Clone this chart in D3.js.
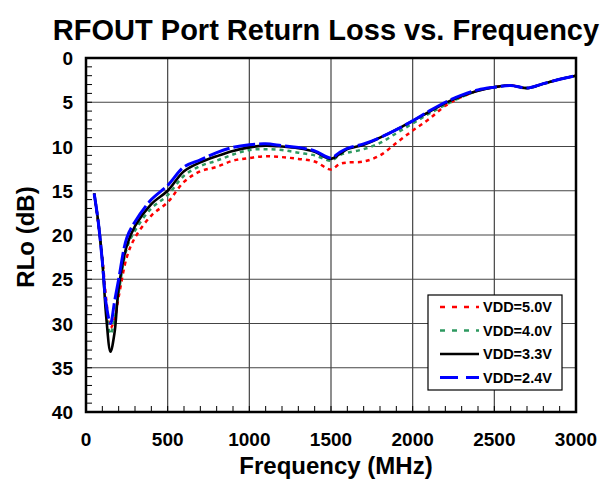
<!DOCTYPE html>
<html>
<head>
<meta charset="utf-8">
<script src="https://cdn.jsdelivr.net/npm/d3@7"></script>
<style>
  body { margin: 0; background: #fff; }
  text { font-family: "Liberation Sans", Arial, sans-serif; font-weight: bold; }
</style>
</head>
<body>
<div id="chart"></div>
<script>
// frequency points (MHz)
var freq = [50, 75, 100, 125, 150, 175, 200, 250, 300, 400, 500, 600, 700, 800, 900, 1000,
            1100, 1200, 1300, 1400, 1500, 1550, 1600, 1700, 1800, 1900, 2000, 2100, 2200,
            2300, 2400, 2500, 2600, 2700, 2800, 2900, 3000];

var rlo50 = [15.3, 18.7, 22.5, 27.5, 30.5, 29.5, 27.0, 22.5, 20.3, 17.8, 16.3, 14.0, 12.8, 12.3, 11.6, 11.3,
             11.1, 11.2, 11.4, 11.7, 12.6, 12.0, 11.8, 11.7, 11.0, 9.6, 8.2, 6.9, 5.4,
             4.4, 3.7, 3.3, 3.1, 3.4, 2.9, 2.4, 2.0];
var rlo40 = [15.3, 18.5, 22.8, 28.5, 31.2, 29.5, 26.5, 21.5, 19.5, 17.0, 15.5, 13.3, 12.2, 11.6, 10.9, 10.4,
             10.3, 10.4, 10.7, 11.0, 11.6, 11.0, 10.7, 10.3, 9.6, 8.5, 7.4, 6.3, 5.3,
             4.4, 3.7, 3.3, 3.1, 3.4, 2.9, 2.4, 2.0];
var rlo33 = [15.3, 18.5, 23.0, 29.5, 33.2, 31.0, 26.0, 21.2, 19.0, 16.5, 15.0, 12.8, 11.8, 11.1, 10.5, 10.1,
             9.9, 10.0, 10.2, 10.6, 11.4, 10.9, 10.3, 9.8, 9.0, 8.1, 7.1, 6.1, 5.1,
             4.3, 3.7, 3.3, 3.1, 3.4, 2.9, 2.4, 2.0];
var rlo24 = [15.3, 18.5, 23.0, 28.0, 30.0, 27.5, 25.0, 20.3, 18.5, 16.0, 14.4, 12.3, 11.5, 10.7, 10.1, 9.8,
             9.7, 9.9, 10.1, 10.5, 11.3, 10.7, 10.2, 9.7, 9.0, 8.1, 7.1, 6.0, 5.0,
             4.2, 3.6, 3.3, 3.1, 3.4, 2.9, 2.4, 2.0];

var seriesNames = ['VDD=5.0V', 'VDD=4.0V', 'VDD=3.3V', 'VDD=2.4V'];
var xTicks = [0, 500, 1000, 1500, 2000, 2500, 3000];
var yTicks = [0, 5, 10, 15, 20, 25, 30, 35, 40];

var series = [
  { name: seriesNames[0], values: rlo50, color: '#ff0000', dash: '4,4', legendDash: '5,7', width: 2.5 },
  { name: seriesNames[1], values: rlo40, color: '#2e9960', dash: '4,4', legendDash: '5,7', width: 2.5 },
  { name: seriesNames[2], values: rlo33, color: '#000000', dash: null, legendDash: null, width: 2.6 },
  { name: seriesNames[3], values: rlo24, color: '#0000ff', dash: '22,4', legendDash: '18,8', width: 3 }
];

var width = 616, height = 483;
var margin = { left: 86, right: 40, top: 58, bottom: 70 };

var svg = d3.select('#chart').append('svg')
  .attr('width', width)
  .attr('height', height);

var x = d3.scaleLinear().domain([0, 3000]).range([margin.left, width - margin.right]);
var y = d3.scaleLinear().domain([0, 40]).range([margin.top, height - margin.bottom - 1]);

// grid
svg.append('g')
  .selectAll('line')
  .data(xTicks)
  .enter().append('line')
  .attr('x1', function(d) { return x(d); })
  .attr('x2', function(d) { return x(d); })
  .attr('y1', y(0)).attr('y2', y(40))
  .attr('stroke', '#444').attr('stroke-width', 1.2);

svg.append('g')
  .selectAll('line')
  .data(yTicks)
  .enter().append('line')
  .attr('y1', function(d) { return y(d); })
  .attr('y2', function(d) { return y(d); })
  .attr('x1', x(0)).attr('x2', x(3000))
  .attr('stroke', '#444').attr('stroke-width', 1.2);

// minor ticks
svg.append('g')
  .selectAll('line')
  .data(d3.range(0, 41, 1))
  .enter().append('line')
  .attr('x1', x(0)).attr('x2', x(0) + 6)
  .attr('y1', function(d) { return y(d); })
  .attr('y2', function(d) { return y(d); })
  .attr('stroke', '#000').attr('stroke-width', 1);

svg.append('g')
  .selectAll('line')
  .data(d3.range(0, 3001, 100))
  .enter().append('line')
  .attr('x1', function(d) { return x(d); })
  .attr('x2', function(d) { return x(d); })
  .attr('y1', y(40)).attr('y2', y(40) - 6)
  .attr('stroke', '#000').attr('stroke-width', 1);

// curves
var line = d3.line()
  .x(function(d, i) { return x(freq[i]); })
  .y(function(d) { return y(d); })
  .curve(d3.curveCatmullRom.alpha(0.5));

svg.append('g')
  .selectAll('path')
  .data(series)
  .enter().append('path')
  .attr('d', function(s) { return line(s.values); })
  .attr('fill', 'none')
  .attr('stroke', function(s) { return s.color; })
  .attr('stroke-width', function(s) { return s.width; })
  .attr('stroke-dasharray', function(s) { return s.dash; });

// frame
svg.append('rect')
  .attr('x', x(0)).attr('y', y(0))
  .attr('width', x(3000) - x(0))
  .attr('height', y(40) - y(0))
  .attr('fill', 'none')
  .attr('stroke', '#000')
  .attr('stroke-width', 2.5);

// tick labels
svg.append('g')
  .selectAll('text')
  .data(xTicks)
  .enter().append('text')
  .attr('x', function(d) { return x(d); })
  .attr('y', y(40) + 34)
  .attr('text-anchor', 'middle')
  .attr('font-size', 19)
  .text(function(d) { return d; });

svg.append('g')
  .selectAll('text')
  .data(yTicks)
  .enter().append('text')
  .attr('x', x(0) - 13)
  .attr('y', function(d) { return y(d) + 7; })
  .attr('text-anchor', 'end')
  .attr('font-size', 19)
  .text(function(d) { return d; });

// titles
svg.append('text')
  .attr('x', 326).attr('y', 40)
  .attr('text-anchor', 'middle')
  .attr('font-size', 29)
  .text('RFOUT Port Return Loss vs. Frequency');

svg.append('text')
  .attr('x', 336).attr('y', 474)
  .attr('text-anchor', 'middle')
  .attr('font-size', 24)
  .text('Frequency (MHz)');

svg.append('text')
  .attr('transform', 'translate(34,' + 237 + ') rotate(-90)')
  .attr('text-anchor', 'middle')
  .attr('font-size', 24)
  .text('RLo (dB)');

// legend
var legend = svg.append('g').attr('transform', 'translate(428,295)');
legend.append('rect')
  .attr('width', 134).attr('height', 95)
  .attr('fill', '#fff').attr('stroke', '#000').attr('stroke-width', 1.2);

var item = legend.selectAll('.legend')
  .data(series)
  .enter().append('g')
  .attr('class', 'legend')
  .attr('transform', function(d, i) { return 'translate(0,' + (12 + i * 23.5) + ')'; });

item.append('line')
  .attr('x1', 12).attr('x2', 51)
  .attr('y1', 0).attr('y2', 0)
  .attr('stroke', function(s) { return s.color; })
  .attr('stroke-width', function(s) { return s.width; })
  .attr('stroke-dasharray', function(s) { return s.legendDash; });

item.append('text')
  .attr('x', 55).attr('y', 5)
  .attr('font-size', 14.5)
  .text(function(s) { return s.name; });
</script>
</body>
</html>
